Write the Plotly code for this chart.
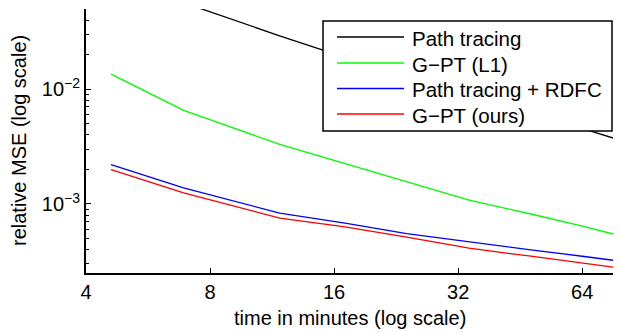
import plotly.graph_objects as go
import math

time_min = [4.6, 6.9, 11.8, 17, 24, 34, 48, 64, 79.5]
path_tracing = [0.127, 0.0568, 0.0292, 0.0189, 0.0130, 0.0089, 0.0062, 0.00455, 0.00357]
gpt_l1 = [0.01355, 0.00654, 0.00330, 0.00224, 0.00156, 0.00108, 0.000817, 0.000641, 0.000525]
pt_rdfc = [0.0022, 0.00138, 0.000833, 0.00068, 0.00055, 0.000465, 0.000398, 0.00035, 0.000316]
gpt_ours = [0.00199, 0.00125, 0.000753, 0.00063, 0.000513, 0.000411, 0.00035, 0.000307, 0.000275]

series_names = ["Path tracing", "G\u2212PT (L1)", "Path tracing + RDFC", "G\u2212PT (ours)"]
series_values = [path_tracing, gpt_l1, pt_rdfc, gpt_ours]
series_colors = ["#000000", "#00ff00", "#0000ff", "#ff0000"]

x_ticks = [4, 8, 16, 32, 64]
x_ticklabels = ["4", "8", "16", "32", "64"]
y_ticks = [1e-3, 1e-2]
y_ticklabels = ["10<sup>\u22123</sup>", "10<sup>\u22122</sup>"]
y_minor = [m * 10.0 ** e for e in (-4, -3, -2) for m in range(2, 10)]

x_range = [math.log10(4), math.log10(79.5)]
y_range = [math.log10(2.5e-4), math.log10(5e-2)]

FONT = "Liberation Sans, Arial, Helvetica, sans-serif"

fig = go.Figure()
for name, vals, col in zip(series_names, series_values, series_colors):
    fig.add_trace(go.Scatter(x=time_min, y=vals, mode="lines", name=name,
                             line=dict(color=col, width=1.3), showlegend=False))

# page body has an 8px default margin, so the figure is offset by 8px
fig.update_layout(
    width=613, height=325,
    margin=dict(l=78, r=0, t=1, b=60, autoexpand=False),
    paper_bgcolor="white", plot_bgcolor="white",
    font=dict(family=FONT, size=20, color="black"),
    xaxis=dict(type="log", range=x_range, tickvals=x_ticks, ticktext=x_ticklabels,
               ticks="inside", ticklen=5, tickcolor="black", tickwidth=1,
               showline=True, linecolor="black", linewidth=2, showgrid=False,
               zeroline=False, automargin=False, tickfont=dict(size=20)),
    yaxis=dict(type="log", range=y_range, tickvals=y_ticks, ticktext=y_ticklabels,
               ticks="inside", ticklen=5, tickcolor="black", tickwidth=1,
               showline=True, linecolor="black", linewidth=2, showgrid=False,
               zeroline=False, automargin=False, tickfont=dict(size=20),
               minor=dict(tickvals=y_minor, ticks="inside", ticklen=3,
                          tickcolor="black", showgrid=False)),
    xaxis2=dict(type="log", range=x_range, overlaying="x", side="top",
                tickvals=x_ticks, showticklabels=False, ticks="inside", ticklen=5,
                tickcolor="#777", showline=True, linecolor="#888", linewidth=1,
                showgrid=False, zeroline=False, automargin=False),
    yaxis2=dict(type="log", range=y_range, overlaying="y", side="right",
                tickvals=y_ticks, showticklabels=False, ticks="inside", ticklen=5,
                tickcolor="#777", showline=True, linecolor="#888", linewidth=1,
                showgrid=False, zeroline=False, automargin=False,
                minor=dict(tickvals=y_minor, ticks="inside", ticklen=3,
                           tickcolor="#999", showgrid=False)),
)

W, H = 535.0, 264.0
def px(xp):
    return (xp - 86) / W
def py(yp):
    return (273 - yp) / H

# axis titles as paper annotations (precise placement)
fig.add_annotation(xref="paper", yref="paper", x=px(350), y=py(318),
                   text="time in minutes (log scale)", showarrow=False,
                   xanchor="center", yanchor="middle",
                   font=dict(family=FONT, size=20, color="black"))
fig.add_annotation(xref="paper", yref="paper", x=px(19), y=py(141),
                   text="relative MSE (log scale)", showarrow=False, textangle=-90,
                   xanchor="center", yanchor="middle",
                   font=dict(family=FONT, size=20, color="black"))

# Legend box (MATLAB style)
fig.add_shape(type="rect", xref="paper", yref="paper",
              x0=px(323), x1=px(612), y0=py(131), y1=py(21),
              fillcolor="white", line=dict(color="black", width=1.5), layer="above")
rows = [37, 63, 88.5, 114]
for name, col, r in zip(series_names, series_colors, rows):
    fig.add_shape(type="line", xref="paper", yref="paper",
                  x0=px(337), x1=px(404), y0=py(r), y1=py(r),
                  line=dict(color=col, width=1.3), layer="above")
    fig.add_annotation(xref="paper", yref="paper", x=px(410), y=py(r + 1),
                       text=name, showarrow=False, xanchor="left", yanchor="middle",
                       font=dict(family=FONT, size=20.5, color="black"))

fig.write_html("out.html")
